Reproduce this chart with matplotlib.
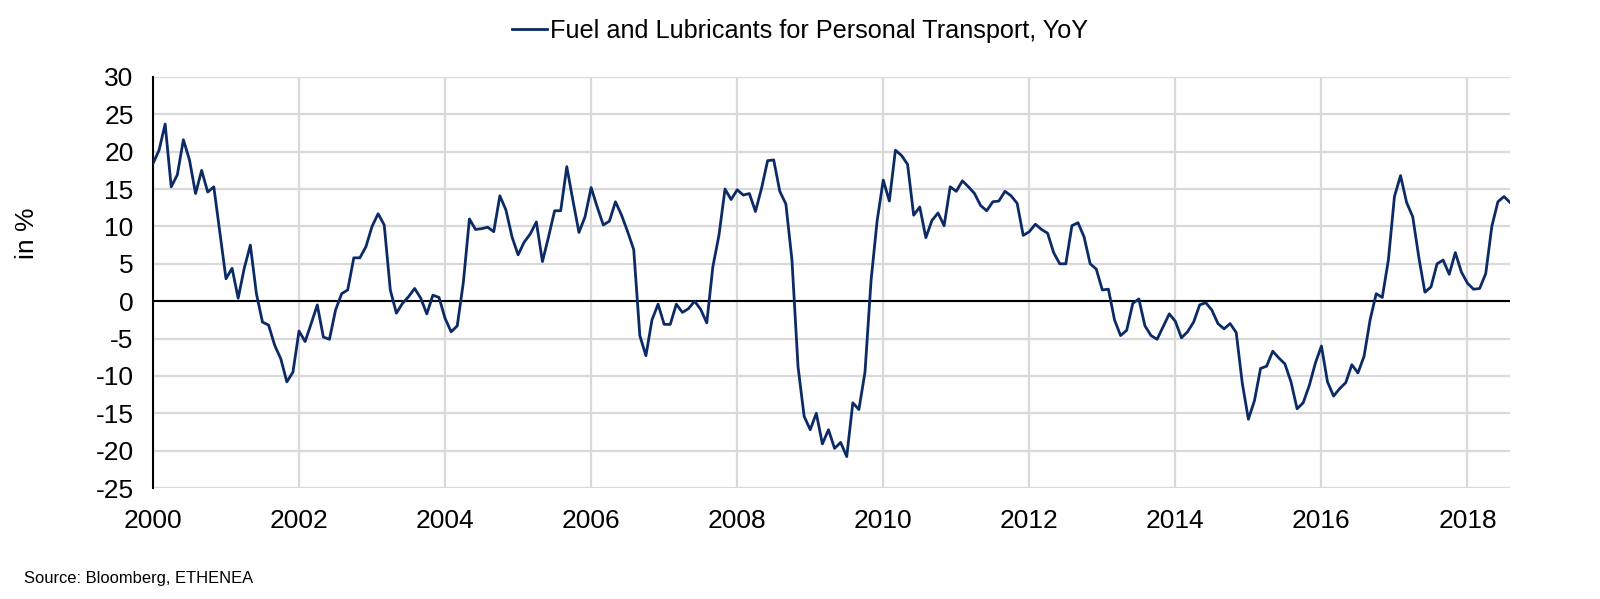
import numpy as np
import matplotlib.pyplot as plt

plt.rcParams['font.family'] = ['Liberation Sans', 'DejaVu Sans']
plt.rcParams['axes.unicode_minus'] = False

# monthly YoY change in %, Jan 2000 .. Aug 2018
start_year = 2000
yoy = [
    # 2000
    18.4, 20.2, 23.7, 15.3, 16.9, 21.6, 18.9, 14.4, 17.5, 14.6, 15.3, 9.1,
    # 2001
    3.0, 4.4, 0.4, 4.4, 7.5, 1.0, -2.8, -3.2, -5.9, -7.7, -10.8, -9.5,
    # 2002
    -4.0, -5.4, -3.0, -0.5, -4.8, -5.1, -1.2, 1.0, 1.5, 5.8, 5.8, 7.3,
    # 2003
    10.0, 11.7, 10.2, 1.5, -1.6, -0.3, 0.6, 1.7, 0.4, -1.7, 0.8, 0.5,
    # 2004
    -2.3, -4.1, -3.3, 2.5, 11.0, 9.6, 9.7, 9.9, 9.3, 14.1, 12.2, 8.6,
    # 2005
    6.2, 7.9, 9.0, 10.6, 5.3, 8.6, 12.1, 12.1, 18.0, 13.5, 9.2, 11.3,
    # 2006
    15.2, 12.6, 10.2, 10.7, 13.3, 11.5, 9.3, 6.9, -4.6, -7.3, -2.5, -0.4,
    # 2007
    -3.1, -3.1, -0.4, -1.5, -1.0, 0.0, -1.1, -2.9, 4.6, 8.8, 15.0, 13.6,
    # 2008
    14.9, 14.2, 14.4, 12.0, 15.1, 18.8, 18.9, 14.7, 13.0, 5.5, -8.8, -15.4,
    # 2009
    -17.2, -15.0, -19.1, -17.2, -19.7, -18.9, -20.8, -13.6, -14.5, -9.5, 2.8, 10.8,
    # 2010
    16.2, 13.4, 20.2, 19.5, 18.3, 11.5, 12.6, 8.5, 10.8, 11.8, 10.1, 15.3,
    # 2011
    14.7, 16.1, 15.3, 14.4, 12.8, 12.1, 13.3, 13.4, 14.7, 14.1, 13.1, 8.8,
    # 2012
    9.3, 10.3, 9.6, 9.1, 6.5, 5.0, 5.0, 10.1, 10.5, 8.6, 5.0, 4.3,
    # 2013
    1.5, 1.6, -2.5, -4.6, -3.9, -0.3, 0.3, -3.3, -4.6, -5.1, -3.4, -1.7,
    # 2014
    -2.7, -4.9, -4.1, -2.8, -0.5, -0.2, -1.2, -3.0, -3.7, -3.0, -4.2, -11.0,
    # 2015
    -15.8, -13.3, -9.0, -8.7, -6.7, -7.6, -8.4, -10.8, -14.4, -13.6, -11.3, -8.3,
    # 2016
    -6.0, -10.8, -12.7, -11.7, -10.9, -8.5, -9.6, -7.4, -2.5, 1.0, 0.5, 5.5,
    # 2017
    14.0, 16.8, 13.2, 11.3, 5.9, 1.2, 1.9, 5.0, 5.5, 3.6, 6.5, 3.9,
    # 2018
    2.4, 1.6, 1.7, 3.7, 10.0, 13.3, 14.0, 13.2,
]
year_ticks = list(range(2000, 2019, 2))
y_ticks = list(range(-25, 31, 5))

series_label = 'Fuel and Lubricants for Personal Transport, YoY'
source_note = 'Source: Bloomberg, ETHENEA'

t = start_year + np.arange(len(yoy)) / 12.0

fig = plt.figure(figsize=(16, 5.99), dpi=100)
ax = fig.add_axes([0.0956, 0.1853, 0.8482, 0.6862])

grid_col = '#d9d9d9'
ax.set_axisbelow(True)
ax.grid(True, color=grid_col, linewidth=1.6)
ax.axhline(0, color='black', linewidth=1.5, zorder=2)

line, = ax.plot(t, yoy, color='#0c2a66', linewidth=2.0, zorder=3,
                label=series_label)

ax.set_xlim(t[0], t[-1])
ax.set_ylim(-25, 30)
ax.set_xticks(year_ticks)
ax.set_xticklabels([str(y) for y in year_ticks])
ax.set_yticks(y_ticks)
ax.tick_params(axis='both', length=0, labelsize=19, colors='black')
ax.tick_params(axis='y', pad=14)
ax.tick_params(axis='x', pad=15)

for s in ['top', 'right', 'bottom']:
    ax.spines[s].set_visible(False)
ax.spines['left'].set_color('black')
ax.spines['left'].set_linewidth(1.5)

fig.text(0.017, 0.61, 'in %', rotation=90, fontsize=19,
         ha='center', va='center')

fig.legend(handles=[line], loc='center', bbox_to_anchor=(0.5, 0.948),
           frameon=False, fontsize=18.2, handlelength=1.4,
           handletextpad=0.1)

fig.text(0.015, 0.035, source_note, fontsize=11.9, ha='left', va='center')

fig.savefig('out.png', dpi=100)
